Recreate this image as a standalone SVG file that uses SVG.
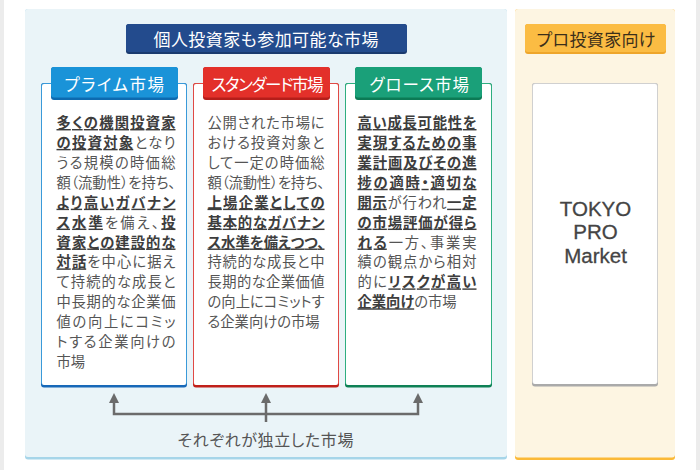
<svg xmlns="http://www.w3.org/2000/svg" width="700" height="470" viewBox="0 0 700 470">
<style>
.jp{font-family:"Noto Sans CJK JP","Noto Sans",sans-serif;font-feature-settings:"palt" 1;}
.body{font-size:14.3px;fill:#555;}
.b{font-weight:700;fill:#3d3d3d;text-decoration-line:underline;text-decoration-color:#777;text-decoration-thickness:1.8px;text-underline-offset:1.5px;}
.tab{font-size:16.5px;fill:#fff;font-weight:400;}
.head{font-size:17px;font-weight:400;}
.arrow{fill:none;stroke:#6b6b6b;stroke-width:2.5;stroke-linejoin:miter;}
.tpm{font-family:"Liberation Sans",Arial,sans-serif;font-weight:400;font-size:20.5px;fill:#444;text-anchor:middle;stroke:#444;stroke-width:0.3;}
</style>
<defs>
<marker id="ah" markerUnits="userSpaceOnUse" markerWidth="10" markerHeight="10" refX="0" refY="5" orient="auto-start-reverse" viewBox="0 0 10 10">
<path d="M0,0 L10,5 L0,10 z" fill="#6b6b6b"/>
</marker>
</defs>
<rect width="700" height="470" fill="#fff"/>
<rect x="0" y="0" width="4" height="470" fill="#ececec"/>
<rect x="696" y="0" width="4" height="470" fill="#ececec"/>

<g id="panel-individual">
<rect x="25" y="9" width="482" height="450.5" rx="3" fill="#a6d5e9"/>
<rect x="25" y="9" width="482" height="448" rx="3" fill="#eaf4f8"/>
<rect x="126" y="24" width="281" height="30" rx="3" fill="#1a3a6e"/>
<rect x="126" y="24" width="281" height="28" rx="3" fill="#234b8d"/>
<text class="jp head" x="153.5" y="45.7" textLength="225" fill="#fff">個人投資家も参加可能な市場</text>
</g>

<g id="panel-pro">
<rect x="515" y="9" width="160" height="451" rx="3" fill="#fbb937"/>
<rect x="515" y="9" width="160" height="448.5" rx="3" fill="#fdf5e2"/>
<rect x="525" y="24" width="141" height="30" rx="3" fill="#eea52a"/>
<rect x="525" y="24" width="141" height="28" rx="3" fill="#fbbc43"/>
<text class="jp head" x="536.5" y="45.7" textLength="119" fill="#3b2f1a">プロ投資家向け</text>
</g>

<g id="node-prime">
<rect x="41" y="83" width="146" height="304.5" rx="3" fill="#1768b8"/>
<rect x="41" y="83" width="146" height="302" rx="3" fill="#3a9ad9"/>
<rect x="42" y="84" width="144" height="301" rx="2" fill="#fff"/>
<rect x="51" y="67" width="127" height="33" rx="3" fill="#0d6ab0"/>
<rect x="51" y="67" width="127" height="30.5" rx="3" fill="#1a93d8"/>
<text class="jp tab" x="64.5" y="91" textLength="99.5">プライム市場</text>
<g class="jp body">
<text x="56.5" y="128" textLength="119"><tspan class="b">多くの機関投資家</tspan></text>
<text x="56.5" y="147.9" textLength="119"><tspan class="b">の投資対象</tspan>となり</text>
<text x="56.5" y="167.8" textLength="119">うる規模の時価総</text>
<text x="56.5" y="187.8" textLength="119">額（流動性）を持ち、</text>
<text x="56.5" y="207.7" textLength="119"><tspan class="b">より高いガバナン</tspan></text>
<text x="56.5" y="227.6" textLength="119"><tspan class="b">ス水準</tspan>を備え、<tspan class="b">投</tspan></text>
<text x="56.5" y="247.5" textLength="119"><tspan class="b">資家との建設的な</tspan></text>
<text x="56.5" y="267.4" textLength="119"><tspan class="b">対話</tspan>を中心に据え</text>
<text x="56.5" y="287.4" textLength="119">て持続的な成長と</text>
<text x="56.5" y="307.3" textLength="119">中長期的な企業価</text>
<text x="56.5" y="327.2" textLength="119">値の向上にコミッ</text>
<text x="56.5" y="347.1" textLength="119">トする企業向けの</text>
<text x="56.5" y="367">市場</text>
</g>
</g>

<g id="node-standard">
<rect x="193" y="83" width="146" height="304.5" rx="3" fill="#c0201a"/>
<rect x="193" y="83" width="146" height="302" rx="3" fill="#e04a45"/>
<rect x="194" y="84" width="144" height="301" rx="2" fill="#fff"/>
<rect x="203" y="67" width="127" height="33" rx="3" fill="#b51e1a"/>
<rect x="203" y="67" width="127" height="30.5" rx="3" fill="#e3302a"/>
<text class="jp tab" x="211.5" y="91" textLength="112">スタンダード市場</text>
<g class="jp body">
<text x="207.5" y="128" textLength="117">公開された市場に</text>
<text x="207.5" y="147.9" textLength="117">おける投資対象と</text>
<text x="207.5" y="167.8" textLength="117">して一定の時価総</text>
<text x="207.5" y="187.8" textLength="117">額（流動性）を持ち、</text>
<text x="207.5" y="207.7" textLength="117"><tspan class="b">上場企業としての</tspan></text>
<text x="207.5" y="227.6" textLength="117"><tspan class="b">基本的なガバナン</tspan></text>
<text x="207.5" y="247.5" textLength="117"><tspan class="b">ス水準を備えつつ、</tspan></text>
<text x="207.5" y="267.4" textLength="117">持続的な成長と中</text>
<text x="207.5" y="287.4" textLength="117">長期的な企業価値</text>
<text x="207.5" y="307.3" textLength="117">の向上にコミットす</text>
<text x="207.5" y="327.2">る企業向けの市場</text>
</g>
</g>

<g id="node-growth">
<rect x="345" y="83" width="147" height="304.5" rx="3" fill="#0e8055"/>
<rect x="345" y="83" width="147" height="302" rx="3" fill="#2eae80"/>
<rect x="346" y="84" width="145" height="301" rx="2" fill="#fff"/>
<rect x="355" y="67" width="127" height="33" rx="3" fill="#0c7a55"/>
<rect x="355" y="67" width="127" height="30.5" rx="3" fill="#1aa079"/>
<text class="jp tab" x="369.5" y="91" textLength="99.5">グロース市場</text>
<g class="jp body">
<text x="357.5" y="128" textLength="119"><tspan class="b">高い成長可能性を</tspan></text>
<text x="357.5" y="147.9" textLength="119"><tspan class="b">実現するための事</tspan></text>
<text x="357.5" y="167.8" textLength="119"><tspan class="b">業計画及びその進</tspan></text>
<text x="357.5" y="187.8" textLength="119"><tspan class="b">捗の適時・適切な</tspan></text>
<text x="357.5" y="207.7" textLength="119"><tspan class="b">開示</tspan>が行われ<tspan class="b">一定</tspan></text>
<text x="357.5" y="227.6" textLength="119"><tspan class="b">の市場評価が得ら</tspan></text>
<text x="357.5" y="247.5" textLength="119"><tspan class="b">れる</tspan>一方、事業実</text>
<text x="357.5" y="267.4" textLength="119">績の観点から相対</text>
<text x="357.5" y="287.4" textLength="119">的に<tspan class="b">リスクが高い</tspan></text>
<text x="357.5" y="307.3"><tspan class="b">企業向け</tspan>の市場</text>
</g>
</g>

<g id="node-tpm">
<rect x="532" y="83" width="126" height="303.5" rx="3" fill="#aaaaaa"/>
<rect x="532" y="83" width="126" height="301" rx="3" fill="#d0d0d0"/>
<rect x="533" y="84" width="124" height="300" rx="2" fill="#fff"/>
<text class="tpm" x="595.5" y="215.7">TOKYO</text>
<text class="tpm" x="595.5" y="239.2">PRO</text>
<text class="tpm" x="595.5" y="262.7">Market</text>
</g>

<g id="connectors">
<path class="arrow" d="M114,403 V414 H418 V403" marker-start="url(#ah)" marker-end="url(#ah)"/>
<path class="arrow" d="M266,422 V403" marker-end="url(#ah)"/>
<text class="jp" x="177.5" y="446.4" textLength="176" font-size="16" fill="#555">それぞれが独立した市場</text>
</g>
</svg>
